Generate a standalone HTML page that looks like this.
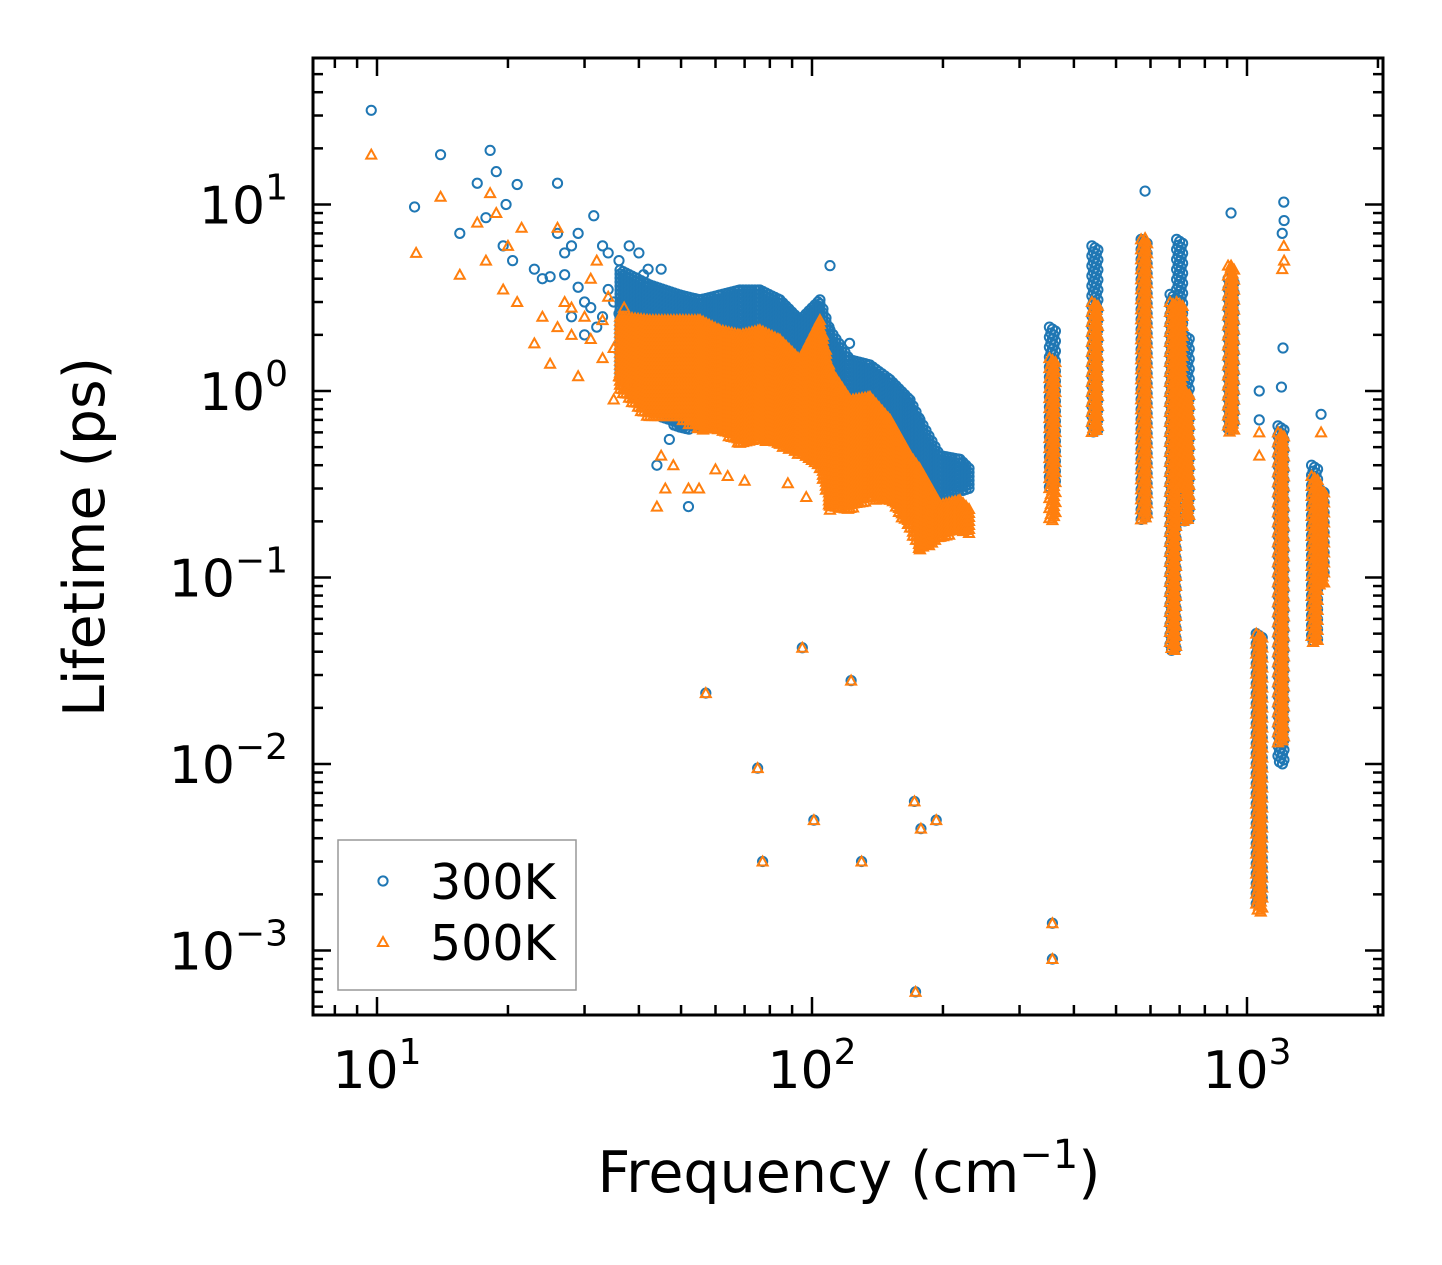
<!DOCTYPE html>
<html><head><meta charset="utf-8">
<style>
body{margin:0;background:#fff;}
svg{display:block;font-family:"DejaVu Sans","Liberation Sans",sans-serif;}
</style></head>
<body>
<svg id="chart" width="1442" height="1265" viewBox="0 0 1442 1265" xmlns="http://www.w3.org/2000/svg">
<rect width="1442" height="1265" fill="#fff"/>
<g id="marks"></g>
<g id="axes"></g>
<text x="849" y="1192" font-size="57" text-anchor="middle">Frequency (cm<tspan font-size="40" dy="-24">−1</tspan><tspan dy="24">)</tspan></text>
<text transform="translate(104,537) rotate(-90)" font-size="57" text-anchor="middle">Lifetime (ps)</text>
<g>
<rect x="338" y="840" width="238" height="150" fill="#fff" stroke="#999" stroke-width="1.5"/>
<circle cx="383" cy="881" r="4.6" fill="none" stroke="#1f77b4" stroke-width="2"/>
<text x="430" y="899" font-size="49">300K</text>
<polygon points="383,937 388,946 378,946" fill="none" stroke="#ff7f0e" stroke-width="2"/>
<text x="430" y="960" font-size="49">500K</text>
</g>
</svg>
<script>
// ---- data ----
const xTickValues = [10, 100, 1000];
const xTickExps = ["1", "2", "3"];
const yTickValues = [10, 1, 0.1, 0.01, 0.001];
const yTickExps = ["1", "0", "\u22121", "\u22122", "\u22123"];
// isolated points [freq, lifetime]
const blueScatter = [[9.7,32],[12.2,9.7],[14,18.5],[15.5,7],[17,13],[17.8,8.5],[18.2,19.5],[18.8,15],[19.5,6],[19.8,10],[21,12.8],[20.5,5],[23,4.5],[24,4],[26,13],[26,7],[27,5.5],[28,6],[29,7],[30,3],[31.5,8.7],[33,6],[34,5.5],[36,5],[38,6],[40,5.5],[42,4.5],[44,0.4],[52,0.24],[35,3],[37,4],[30,2],[28,2.5],[33,2.5],[40,3.8],[45,4.5],[47,0.55],[110,4.7],[122,1.8],[583,11.8],[919,9],[1067,0.7],[1067,1.0],[1200,1.05],[1210,1.7],[1205,7],[1215,10.3],[1217,8.2],[1480,0.75],[32,2.2],[34,3.5],[36,2.6],[38,3.2],[39,2.2],[41,4.2],[43,3.6],[31,2.8],[29,3.6],[27,4.2],[25,4.1]];
const orangeScatter = [[9.7,18.5],[12.3,5.5],[14,11],[15.5,4.2],[17,8],[17.8,5],[18.2,11.5],[18.8,9],[19.5,3.5],[20,6],[21,3],[21.5,7.5],[23,1.8],[24,2.5],[25,1.4],[26,7.5],[27,3],[28,2],[29,1.2],[30,2.5],[32,5],[33,1.5],[35,0.9],[36,1.2],[38,2],[40,1.5],[44,0.24],[46,0.3],[52,0.3],[31,4],[34,3.2],[37,2.8],[42,2.3],[583,6.6],[919,4.7],[1067,0.45],[1067,0.6],[1205,4.5],[1215,6],[1217,5],[1480,0.6],[31,1.9],[33,2.4],[35,1.7],[37,1.3],[39,0.95],[41,0.85],[43,1.1],[45,0.45],[48,0.4],[55,0.3],[60,0.38],[64,0.35],[70,0.33],[88,0.32],[97,0.27],[28,2.8],[26,2.2]];
// shared low-lifetime outliers (both temperatures)
const lowOutliers = [[57,0.024],[75,0.0095],[77,0.003],[95,0.042],[101,0.005],[123,0.028],[130,0.003],[172,0.0063],[178,0.0045],[173,0.0006],[193,0.005],[357,0.0014],[357,0.0009]];
// dense region envelope [freq, lowLifetime, highLifetime]
const blueProfile = [[36.2,1.15,4.45],[42.4,0.79,3.7],[49.7,0.62,3.27],[55.3,0.62,3.08],[61.4,0.66,3.27],[68.3,0.62,3.48],[75.9,0.70,3.48],[84.4,0.62,3.08],[93.8,0.48,2.40],[104.3,0.48,3.08],[110,0.38,2.12],[122.3,0.38,1.47],[135.9,0.38,1.38],[151.1,0.33,1.15],[168,0.29,0.895],[177.1,0.26,0.70],[197,0.26,0.45],[218.9,0.29,0.43],[230.8,0.29,0.38]];
const orangeProfile = [[36.2,1.0,2.5],[42.4,0.70,2.4],[49.7,0.70,2.4],[55.3,0.62,2.4],[61.4,0.62,2.12],[68.3,0.51,2.0],[75.9,0.55,2.12],[84.4,0.51,1.88],[93.8,0.45,1.47],[104.3,0.38,2.40],[110,0.23,1.30],[122.3,0.23,0.895],[135.9,0.26,0.93],[151.1,0.26,0.70],[168,0.18,0.45],[177.1,0.14,0.38],[197,0.16,0.245],[218.9,0.18,0.26],[230.8,0.17,0.23]];
// vertical strips [freq, lowLifetime, highLifetime]
const blueStrips = [[357,0.3,2.2],[447,0.6,6],[580,0.2,6.5],[676,0.04,3.3],[700,0.3,6.5],[725,0.2,2],[919,0.6,4],[1067,0.0017,0.05],[1197,0.01,0.65],[1430,0.045,0.4],[1480,0.1,0.3]];
const orangeStrips = [[357,0.2,1.5],[447,0.6,3],[580,0.2,6.5],[676,0.04,3],[700,0.3,3],[725,0.2,1],[919,0.6,4.7],[1067,0.0016,0.05],[1197,0.013,0.6],[1430,0.045,0.35],[1480,0.09,0.3]];

// ---- scales ----
const L=313,R=1383,T=58,B=1015;
const x0=377, xDec=435, y0=391, yDec=186.5;
function sx(f){return x0+(Math.log10(f)-1)*xDec;}
function sy(v){return y0-Math.log10(v)*yDec;}
const NS="http://www.w3.org/2000/svg";
const marks=document.getElementById('marks');
const axes=document.getElementById('axes');
function circ(f,v,dx,dy){
  const c=document.createElementNS(NS,'circle');
  c.setAttribute('cx',sx(f)+(dx||0));c.setAttribute('cy',sy(v)+(dy||0));c.setAttribute('r',4.6);
  c.setAttribute('fill','none');c.setAttribute('stroke','#1f77b4');c.setAttribute('stroke-width',2);
  
  
  marks.appendChild(c);
}
function tri(f,v,dx,dy){
  const x=sx(f)+(dx||0),y=sy(v)+(dy||0);
  const p=document.createElementNS(NS,'polygon');
  p.setAttribute('points',`${x},${y-5} ${x+5},${y+4} ${x-5},${y+4}`);
  p.setAttribute('fill','none');p.setAttribute('stroke','#ff7f0e');p.setAttribute('stroke-width',2);
  
  
  marks.appendChild(p);
}
function profile(arr,fn){
  for(let i=0;i<arr.length-1;i++){
    const [f1,lo1,hi1]=arr[i],[f2,lo2,hi2]=arr[i+1];
    const xa=sx(f1),xb=sx(f2);
    for(let x=xa;x<xb;x+=3){
      const t=(x-xa)/(xb-xa);
      const yh=sy(hi1)+(sy(hi2)-sy(hi1))*t, yl=sy(lo1)+(sy(lo2)-sy(lo1))*t;
      const f=Math.pow(10,(x-x0)/xDec+1);
      for(let y=yh;y<=yl;y+=4){
        fn(f,Math.pow(10,(y0-y)/yDec));
      }
    }
  }
}
function strip(arr,fn){
  arr.forEach(([f,lo,hi])=>{
    let k=0;
    for(let y=sy(hi);y<=sy(lo);y+=2){
      const off=[-3,0,3,-1.5,1.5][k%5];k++;
      fn(f,Math.pow(10,(y0-y)/yDec),off,0);
    }
  });
}
blueScatter.forEach(p=>circ(p[0],p[1]));
profile(blueProfile,circ);
strip(blueStrips,circ);
lowOutliers.forEach(p=>circ(p[0],p[1]));
orangeScatter.forEach(p=>tri(p[0],p[1]));
profile(orangeProfile,tri);
strip(orangeStrips,tri);
lowOutliers.forEach(p=>tri(p[0],p[1]));

// ---- axes ----
function line(x1,y1,x2,y2,w,name){
  const l=document.createElementNS(NS,'line');
  l.setAttribute('x1',x1);l.setAttribute('y1',y1);l.setAttribute('x2',x2);l.setAttribute('y2',y2);
  l.setAttribute('stroke','#000');l.setAttribute('stroke-width',w);
  
  
  axes.appendChild(l);
}
const fr=document.createElementNS(NS,'rect');
fr.setAttribute('x',L);fr.setAttribute('y',T);fr.setAttribute('width',R-L);fr.setAttribute('height',B-T);
fr.setAttribute('fill','none');fr.setAttribute('stroke','#000');fr.setAttribute('stroke-width',3);


axes.appendChild(fr);
for(let e=0;e<=3;e++){
  for(let m=1;m<=9;m++){
    const f=m*Math.pow(10,e);const x=sx(f);
    if(x<L+2||x>R-2)continue;
    const len=m===1?18:10;
    line(x,B,x,B-len,2.5,'x-tick');line(x,T,x,T+len,2.5,'x-tick');
  }
}
for(let e=-4;e<=1;e++){
  for(let m=1;m<=9;m++){
    const v=m*Math.pow(10,e);const y=sy(v);
    if(y<T+2||y>B-2)continue;
    const len=m===1?18:10;
    line(L,y,L+len,y,2.5,'y-tick');line(R,y,R-len,y,2.5,'y-tick');
  }
}
xTickValues.forEach((v,i)=>{
  const t=document.createElementNS(NS,'text');
  t.setAttribute('x',sx(v));t.setAttribute('y',1088);t.setAttribute('font-size',52);t.setAttribute('text-anchor','middle');
  t.innerHTML='10<tspan font-size="36" dy="-24">'+xTickExps[i]+'</tspan>';
  
  
  axes.appendChild(t);
});
yTickValues.forEach((v,i)=>{
  const t=document.createElementNS(NS,'text');
  t.setAttribute('x',288);t.setAttribute('y',sy(v)+19);t.setAttribute('font-size',52);t.setAttribute('text-anchor','end');
  t.innerHTML='10<tspan font-size="36" dy="-24">'+yTickExps[i]+'</tspan>';
  
  
  axes.appendChild(t);
});
</script>
</body></html>
